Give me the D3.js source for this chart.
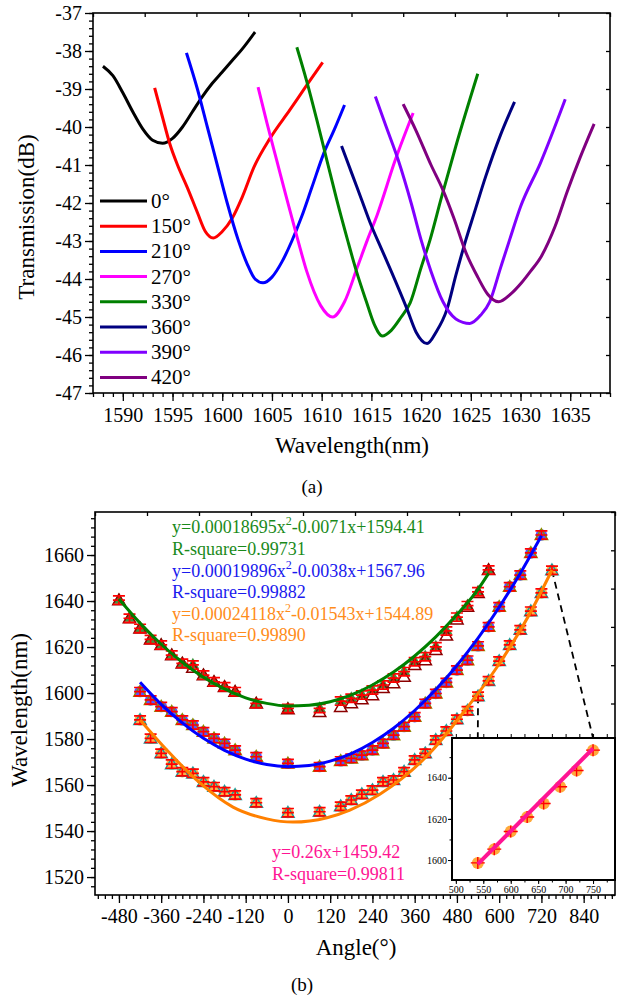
<!DOCTYPE html>
<html lang="en">
<head>
<meta charset="UTF-8">
<title>transmission / angle</title>
<script src="https://cdn.jsdelivr.net/npm/d3@7"></script>
<style>
    body{ margin:0; background:#fff; }
    svg text{ font-family:'Liberation Serif','Times New Roman',Times,serif !important; }
</style>
</head>
<body>
<svg id="fig" width="624" height="999"></svg>
<script>
    const FONT = "'Liberation Serif','Times New Roman',Times,serif";

    // ---------- (a) spectra : [wavelength nm, transmission dB] ----------
    const specNames  = ["0°","150°","210°","270°","330°","360°","390°","420°"];
    const specColors = ["#000000","#ff0000","#0000ff","#ff00ff","#008000","#000080","#8000ff","#800080"];
    const spec0   = [[1588.0,-38.4],[1589,-38.65],[1590,-39.1],[1591,-39.6],[1592,-40.05],[1593,-40.35],[1594,-40.43],[1595,-40.3],[1596,-40.0],[1597,-39.6],[1598,-39.2],[1599,-38.85],[1600,-38.55],[1601,-38.25],[1602,-37.95],[1603.3,-37.5]];
    const spec150 = [[1593.2,-38.97],[1594,-39.75],[1594.7,-40.42],[1595.5,-41.0],[1596.5,-41.6],[1597.5,-42.25],[1598.3,-42.75],[1599.1,-42.92],[1600,-42.75],[1601,-42.4],[1602,-41.85],[1603.2,-41.05],[1604.8,-40.3],[1606.8,-39.55],[1608.5,-38.9],[1610.1,-38.3]];
    const spec210 = [[1596.4,-38.05],[1597.5,-39.0],[1598.5,-40.0],[1599.5,-41.0],[1600.5,-42.0],[1601.6,-42.97],[1602.5,-43.6],[1603.3,-44.0],[1604.1,-44.1],[1605,-43.95],[1606,-43.55],[1607,-43.0],[1608,-42.35],[1609,-41.6],[1610.2,-40.7],[1611.3,-40.05],[1612.3,-39.42]];
    const spec270 = [[1603.6,-38.95],[1604.5,-39.9],[1605.5,-40.9],[1606.5,-41.9],[1607.6,-42.97],[1608.5,-43.8],[1609.9,-44.7],[1611.1,-45.0],[1612.3,-44.6],[1613.6,-43.68],[1614.6,-42.97],[1615.6,-42.3],[1617.4,-40.87],[1619.2,-39.63]];
    const spec330 = [[1607.5,-37.9],[1608.5,-38.8],[1609.5,-39.8],[1610.5,-40.85],[1611.5,-41.9],[1612.6,-42.97],[1613.5,-43.8],[1614.5,-44.6],[1615.3,-45.2],[1616.1,-45.5],[1617,-45.35],[1618,-45.0],[1618.9,-44.63],[1620,-43.7],[1620.9,-42.97],[1622,-41.9],[1623.5,-40.5],[1625.7,-38.6]];
    const spec360 = [[1612,-40.5],[1613,-41.2],[1614,-41.9],[1615,-42.6],[1616,-43.2],[1617,-43.8],[1618.6,-44.8],[1619.5,-45.4],[1620.6,-45.7],[1621.5,-45.4],[1622.6,-44.8],[1623.5,-43.9],[1624.5,-42.97],[1625.3,-42.3],[1626.5,-41.3],[1628,-40.2],[1629.4,-39.34]];
    const spec390 = [[1615.4,-39.2],[1616.5,-40.0],[1617.7,-40.87],[1619,-42.0],[1620,-42.97],[1621,-43.8],[1622.2,-44.6],[1623.5,-45.05],[1624.9,-45.17],[1626,-44.95],[1626.9,-44.6],[1628,-43.7],[1628.9,-42.97],[1630,-42.1],[1632,-40.95],[1634.5,-39.27]];
    const spec420 = [[1618.2,-39.4],[1619.5,-40.1],[1621,-41.0],[1622.2,-41.66],[1623.3,-42.4],[1624.5,-43.3],[1625.7,-43.95],[1626.7,-44.4],[1627.8,-44.6],[1629,-44.4],[1630.1,-44.1],[1631,-43.8],[1632.1,-43.4],[1633.5,-42.6],[1634.7,-41.7],[1636,-40.8],[1637.4,-39.92]];
    const specData = [spec0,spec150,spec210,spec270,spec330,spec360,spec390,spec420];

    // ---------- (b) angle vs wavelength ----------
    const greenAngle = [-480,-450,-420,-390,-360,-330,-300,-270,-240,-210,-180,-150,-90,0,90,150,180,210,240,270,300,330,360,390,420,450,480,510,540,570];
    const greenVal   = [1640.4,1632.5,1628.1,1623.3,1620.9,1616.5,1612.9,1612.2,1607.8,1604.9,1602.7,1600.6,1595.5,1593.3,1593.3,1596.5,1597.7,1599.1,1601.3,1603.5,1606.5,1609.3,1613.6,1615.8,1620.1,1627.0,1633.0,1638.0,1644.0,1653.5];
    const greenTri   = [1640.4,1632.5,1628.1,1623.3,1620.9,1616.5,1612.9,1611.0,1607.8,1604.9,1602.7,1600.6,1595.5,1593.0,1591.8,1594.0,1595.6,1597.3,1599.1,1602.2,1604.3,1607.1,1612.2,1614.3,1618.7,1625.0,1632.0,1637.5,1643.5,1653.5];
    const blueAngle  = [-420,-390,-360,-330,-300,-270,-240,-210,-180,-150,-90,0,90,150,180,210,240,270,300,330,360,390,420,450,480,510,540,570,600,630,660,690,720];
    const blueVal    = [1600.6,1597.0,1594.1,1591.9,1588.3,1586.1,1583.2,1580.3,1578.1,1575.2,1572.3,1569.4,1568.0,1570.5,1571.6,1573.0,1575.2,1578.1,1581.7,1585.4,1589.7,1595.5,1599.8,1604.6,1610.0,1614.3,1620.5,1628.8,1637.5,1646.2,1651.3,1660.9,1668.7];
    const orangeAngle = [-420,-390,-360,-330,-300,-270,-240,-210,-180,-150,-90,0,90,150,180,210,240,270,300,330,360,390,420,450,480,510,540,570,600,630,660,690,720,750];
    const orangeVal   = [1588.3,1580.3,1573.8,1569.1,1565.8,1565.1,1561.4,1559.3,1557.1,1555.7,1552.3,1548.0,1548.4,1550.8,1553.5,1556.0,1557.8,1561.4,1562.2,1565.8,1570.9,1573.8,1579.6,1583.5,1588.6,1592.3,1598.6,1605.3,1613.9,1620.9,1627.5,1635.6,1643.5,1653.4];
    const errBar = 1.8;

    // fitted curves: [angle, wavelength]
    const greenFit  = [[-480,1640.9],[-420,1630.4],[-360,1621.2],[-300,1613.4],[-240,1606.9],[-180,1601.8],[-120,1597.9],[-60,1595.5],[0,1594.4],[60,1594.7],[120,1596.2],[180,1599.2],[240,1603.5],[300,1609.1],[360,1616.1],[420,1624.4],[480,1634.1],[540,1645.1],[570,1652.0]];
    const blueFit   = [[-420,1604.7],[-360,1595.1],[-300,1587.0],[-240,1580.3],[-180,1575.1],[-120,1571.3],[-60,1568.9],[0,1568.0],[60,1568.5],[120,1570.4],[180,1573.7],[240,1578.5],[300,1584.7],[360,1592.4],[420,1601.5],[480,1612.0],[540,1623.9],[600,1637.3],[660,1652.1],[720,1668.4]];
    const orangeFit = [[-420,1588.3],[-344,1575.2],[-250,1560.9],[-156,1550.4],[-60,1545.3],[14,1543.9],[111,1545.8],[176,1549.1],[261,1556.0],[403,1573.9],[497,1591.3],[594,1611.3],[688,1634.8],[750,1653.5]];
    const insetFit  = [[540,1598.0],[750,1654.2]];

    const eqGreen  = ["y=0.00018695x","2","-0.0071x+1594.41","R-square=0.99731"];
    const eqBlue   = ["y=0.00019896x","2","-0.0038x+1567.96","R-square=0.99882"];
    const eqOrange = ["y=0.00024118x","2","-0.01543x+1544.89","R-square=0.99890"];
    const eqPink   = ["y=0.26x+1459.42","R-square=0.99811"];

    const svg = d3.select("#fig");

    function styleAxis(g, size){
        g.attr("font-family", FONT).attr("font-size", size);
        g.select(".domain").remove();
        g.selectAll("line").attr("stroke","#000").attr("stroke-width",1.3);
        g.selectAll("text").attr("fill","#000");
    }
    function frame(x0,y0,x1,y1,w){
        svg.append("rect").attr("x",x0).attr("y",y0).attr("width",x1-x0).attr("height",y1-y0)
            .attr("fill","none").attr("stroke","#000").attr("stroke-width",w);
    }

    // ================= (a) =================
    const xA = d3.scaleLinear().domain([1587,1639]).range([93,610]);
    const yA = d3.scaleLinear().domain([-47,-37]).range([393,13]);

    svg.append("g").attr("transform","translate(0,393)")
        .call(d3.axisBottom(xA).tickValues(d3.range(1587,1640,1)).tickSize(4).tickFormat("").tickSizeOuter(0))
        .call(styleAxis,20);
    svg.append("g").attr("transform","translate(0,393)")
        .call(d3.axisBottom(xA).tickValues(d3.range(1590,1636,5)).tickSize(8).tickPadding(7).tickFormat(d=>d).tickSizeOuter(0))
        .call(styleAxis,20);
    svg.append("g").attr("transform","translate(93,0)")
        .call(d3.axisLeft(yA).tickValues(d3.range(-47,-36.9,0.2)).tickSize(4).tickFormat("").tickSizeOuter(0))
        .call(styleAxis,20);
    svg.append("g").attr("transform","translate(93,0)")
        .call(d3.axisLeft(yA).tickValues(d3.range(-47,-36,1)).tickSize(8).tickPadding(3).tickFormat(d=>d).tickSizeOuter(0))
        .call(styleAxis,20);
    // mirror ticks
    svg.append("g").attr("transform","translate(0,13)")
        .call(d3.axisBottom(d3.scaleLinear().domain([0,10]).range([93,610])).ticks(10).tickSize(4).tickFormat("").tickSizeOuter(0))
        .call(styleAxis,20);
    svg.append("g").attr("transform","translate(610,0)")
        .call(d3.axisLeft(yA).tickValues(d3.range(-47,-36,1)).tickSize(4).tickFormat("").tickSizeOuter(0))
        .call(styleAxis,20);

    const lineA = d3.line().x(d=>xA(d[0])).y(d=>yA(d[1])).curve(d3.curveMonotoneX);
    svg.append("g").selectAll("path").data(specData).join("path")
        .attr("d", lineA).attr("fill","none")
        .attr("stroke",(d,i)=>specColors[i]).attr("stroke-width",3).attr("stroke-linejoin","round");

    frame(93,13,610,393,1.6);

    // legend
    const leg = svg.append("g").attr("font-family",FONT).attr("font-size",21);
    specNames.forEach((n,i)=>{
        const y = 201 + i*25.2;
        leg.append("line").attr("x1",100).attr("x2",147).attr("y1",y).attr("y2",y)
            .attr("stroke",specColors[i]).attr("stroke-width",3);
        leg.append("text").attr("x",151).attr("y",y+7).text(n);
    });

    svg.append("text").attr("transform","translate(34,217) rotate(-90)").attr("text-anchor","middle")
        .attr("font-family",FONT).attr("font-size",23).text("Transmission(dB)");
    svg.append("text").attr("x",352).attr("y",453).attr("text-anchor","middle")
        .attr("font-family",FONT).attr("font-size",23).text("Wavelength(nm)");
    svg.append("text").attr("x",312).attr("y",493).attr("text-anchor","middle")
        .attr("font-family",FONT).attr("font-size",19).text("(a)");

    // ================= (b) =================
    const xB = d3.scaleLinear().domain([-548,929]).range([95,615]);
    const yB = d3.scaleLinear().domain([1512.2,1678.7]).range([895,512]);

    svg.append("g").attr("transform","translate(0,895)")
        .call(d3.axisBottom(xB).tickValues(d3.range(-540,921,20)).tickSize(4).tickFormat("").tickSizeOuter(0))
        .call(styleAxis,20);
    svg.append("g").attr("transform","translate(0,895)")
        .call(d3.axisBottom(xB).tickValues(d3.range(-480,841,120)).tickSize(8).tickPadding(6).tickFormat(d=>d).tickSizeOuter(0))
        .call(styleAxis,20);
    svg.append("g").attr("transform","translate(95,0)")
        .call(d3.axisLeft(yB).tickValues(d3.range(1516,1678,4)).tickSize(4).tickFormat("").tickSizeOuter(0))
        .call(styleAxis,20);
    svg.append("g").attr("transform","translate(95,0)")
        .call(d3.axisLeft(yB).tickValues(d3.range(1520,1661,20)).tickSize(8).tickPadding(3).tickFormat(d=>d).tickSizeOuter(0))
        .call(styleAxis,20);
    svg.append("g").attr("transform","translate(0,512)")
        .call(d3.axisBottom(d3.scaleLinear().domain([0,10]).range([95,615])).ticks(10).tickSize(4).tickFormat("").tickSizeOuter(0))
        .call(styleAxis,20);
    svg.append("g").attr("transform","translate(615,0)")
        .call(d3.axisLeft(d3.scaleLinear().domain([0,10]).range([895,512])).ticks(10).tickSize(4).tickFormat("").tickSizeOuter(0))
        .call(styleAxis,20);

    const lineB = d3.line().x(d=>xB(d[0])).y(d=>yB(d[1])).curve(d3.curveMonotoneX);
    const pickOrange = (a)=> orangeVal[orangeAngle.indexOf(a)];

    // dashed zoom guides
    const guides = [540,750];
    const xI = d3.scaleLinear().domain([493,790]).range([452,615]);
    const yI = d3.scaleLinear().domain([1590.3,1659.3]).range([880,738]);
    svg.append("g").selectAll("line").data(guides).join("line")
        .attr("x1",a=>xB(a)).attr("y1",a=>yB(pickOrange(a)))
        .attr("x2",a=>xI(a)).attr("y2",yI.range()[1])
        .attr("stroke","#000").attr("stroke-width",1.8).attr("stroke-dasharray","7,5");

    function drawMarks(angles, vals, tris, fill, triStroke, shape){
        const g = svg.append("g");
        const pts = angles.map((a,i)=>({a:a, v:vals[i], t:tris[i]}));
        if (shape === "triangle"){
            g.selectAll(null).data(pts).join("path")
                .attr("d", d3.symbol(d3.symbolTriangle,66)())
                .attr("transform", d=>`translate(${xB(d.a)},${yB(d.v)})`)
                .attr("fill",fill).attr("fill-opacity",0.9);
        } else {
            g.selectAll(null).data(pts).join("circle")
                .attr("cx",d=>xB(d.a)).attr("cy",d=>yB(d.v)).attr("r",5.7)
                .attr("fill",fill).attr("fill-opacity",0.8);
        }
        g.selectAll(null).data(pts).join("path")
            .attr("d", d3.symbol(d3.symbolTriangle,66)())
            .attr("transform", d=>`translate(${xB(d.a)},${yB(d.t)+1})`)
            .attr("fill","none").attr("stroke",triStroke).attr("stroke-width",1.5);
        g.selectAll(null).data(pts).join("path")
            .attr("d", d=>{
                const x = xB(d.a), y = yB(d.v), y0 = yB(d.v-errBar), y1 = yB(d.v+errBar);
                return `M${x-6},${y0}H${x+6}M${x-6},${y1}H${x+6}M${x},${y0}V${y1}M${x-6},${y}H${x+6}`;
            })
            .attr("fill","none").attr("stroke","#ff0000").attr("stroke-width",1.7);
    }

    drawMarks(greenAngle, greenVal, greenTri, "#2a8a2a", "#8b0000", "triangle");
    drawMarks(blueAngle, blueVal, blueVal, "#2a2aff", "#8c8c00", "circle");
    drawMarks(orangeAngle, orangeVal, orangeVal, "#ff9a1a", "#1f9a9a", "circle");

    const fits = [[greenFit,"#008000"],[blueFit,"#0000ff"],[orangeFit,"#ff8000"]];
    svg.append("g").selectAll("path").data(fits).join("path")
        .attr("d",d=>lineB(d[0])).attr("fill","none")
        .attr("stroke",d=>d[1]).attr("stroke-width",3);

    frame(95,512,615,895,1.6);

    // equations
    function eq(parts, x, y1, y2, color){
        const t = svg.append("text").attr("x",x).attr("y",y1).attr("font-family",FONT)
            .attr("font-size",18).attr("fill",color);
        t.append("tspan").text(parts[0]);
        t.append("tspan").attr("dy",-8).attr("font-size",12).text(parts[1]);
        t.append("tspan").attr("dy",8).text(parts[2]);
        svg.append("text").attr("x",x).attr("y",y2).attr("font-family",FONT)
            .attr("font-size",18).attr("fill",color).text(parts[3]);
    }
    eq(eqGreen, 172, 533, 555, "#1a8a1a");
    eq(eqBlue, 172, 577, 598, "#1a1aee");
    eq(eqOrange, 172, 620, 641, "#ff8c1a");
    svg.append("text").attr("x",272).attr("y",858).attr("font-family",FONT).attr("font-size",18)
        .attr("fill","#ff1493").text(eqPink[0]);
    svg.append("text").attr("x",272).attr("y",880).attr("font-family",FONT).attr("font-size",18)
        .attr("fill","#ff1493").text(eqPink[1]);

    // inset
    svg.append("rect").attr("x",452).attr("y",738).attr("width",163).attr("height",142).attr("fill","#fff");
    svg.append("g").attr("transform","translate(0,880)")
        .call(d3.axisBottom(xI).tickValues(d3.range(500,790,25)).tickSize(2.5).tickFormat("").tickSizeOuter(0))
        .call(styleAxis,10);
    svg.append("g").attr("transform","translate(0,880)")
        .call(d3.axisBottom(xI).tickValues(d3.range(500,751,50)).tickSize(4).tickPadding(2).tickFormat(d=>d).tickSizeOuter(0))
        .call(styleAxis,10);
    svg.append("g").attr("transform","translate(0,738)")
        .call(d3.axisTop(xI).tickValues(d3.range(500,790,25)).tickSize(4).tickFormat("").tickSizeOuter(0))
        .call(styleAxis,10);
    svg.append("g").attr("transform","translate(452,0)")
        .call(d3.axisLeft(yI).tickValues(d3.range(1600,1651,10)).tickSize(2.5).tickFormat("").tickSizeOuter(0))
        .call(styleAxis,10);
    svg.append("g").attr("transform","translate(452,0)")
        .call(d3.axisLeft(yI).tickValues([1600,1620,1640]).tickSize(4).tickPadding(1).tickFormat(d=>d).tickSizeOuter(0))
        .call(styleAxis,10);
    svg.selectAll("g").filter(function(){ return this.getAttribute("font-size")==="10"; })
        .selectAll("line").attr("stroke-width",1);

    const insetPts = orangeAngle.map((a,i)=>[a,orangeVal[i]]).filter(d=>d[0]>=540);
    const gi = svg.append("g");
    gi.selectAll("circle").data(insetPts).join("circle")
        .attr("cx",d=>xI(d[0])).attr("cy",d=>yI(d[1])).attr("r",6)
        .attr("fill","#ff9a1a").attr("fill-opacity",0.85);
    gi.selectAll("path").data(insetPts).join("path")
        .attr("d",d=>{ const x=xI(d[0]), y=yI(d[1]); return `M${x-7},${y}H${x+7}M${x},${y-6}V${y+6}`; })
        .attr("stroke","#ff0000").attr("stroke-width",1.4);
    svg.append("path").datum(insetFit)
        .attr("d", d3.line().x(d=>xI(d[0])).y(d=>yI(d[1])))
        .attr("stroke","#ff1493").attr("stroke-width",4).attr("fill","none");
    frame(452,738,615,880,2);

    svg.append("text").attr("transform","translate(27,710) rotate(-90)").attr("text-anchor","middle")
        .attr("font-family",FONT).attr("font-size",23).text("Wavelength(nm)");
    svg.append("text").attr("x",356).attr("y",955).attr("text-anchor","middle")
        .attr("font-family",FONT).attr("font-size",23).text("Angle(°)");
    svg.append("text").attr("x",302).attr("y",991).attr("text-anchor","middle")
        .attr("font-family",FONT).attr("font-size",19).text("(b)");
</script>
</body>
</html>
